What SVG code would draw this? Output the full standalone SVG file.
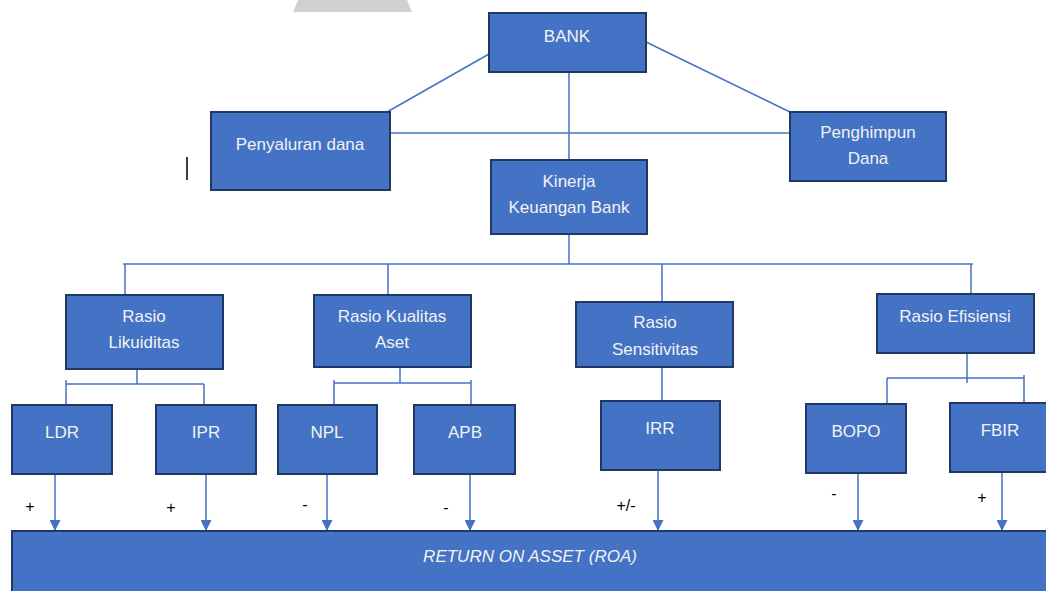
<svg xmlns="http://www.w3.org/2000/svg" width="1046" height="591" viewBox="0 0 1046 591">
<style>
.box{fill:#4472C4;stroke:#1F3864;stroke-width:2}
.t{font-family:"Liberation Sans",Arial,sans-serif;font-size:17px;fill:#F2F2F2;text-anchor:middle}
.ln{stroke:#4472C4;stroke-width:1.5;fill:none}
.sg{font-family:"Liberation Sans",Arial,sans-serif;font-size:16px;fill:#000;text-anchor:middle}
</style>
<defs>
<marker id="ah" viewBox="0 0 10 10" refX="10" refY="5" markerWidth="11" markerHeight="11" markerUnits="userSpaceOnUse" orient="auto">
<path d="M0,0 L10,5 L0,10 z" fill="#4472C4"/>
</marker>
</defs>
<rect width="1046" height="591" fill="#fff"/>
<polygon points="293,12 412,12 407,0 298,0" fill="#d0d0d0"/>
<line x1="187" y1="157" x2="187" y2="180" stroke="#000" stroke-width="1.5"/>

<g id="connectors">
<line class="ln" x1="489" y1="54" x2="387" y2="112"/>
<line class="ln" x1="646" y1="42" x2="790" y2="112"/>
<line class="ln" x1="569" y1="72" x2="569" y2="160"/>
<line class="ln" x1="390" y1="133" x2="790" y2="133"/>
<line class="ln" x1="569" y1="234" x2="569" y2="264"/>
<line class="ln" x1="123" y1="264" x2="973" y2="264"/>
<line class="ln" x1="125" y1="264" x2="125" y2="295"/>
<line class="ln" x1="388" y1="264" x2="388" y2="295"/>
<line class="ln" x1="662" y1="264" x2="662" y2="302"/>
<line class="ln" x1="971" y1="264" x2="971" y2="294"/>
<line class="ln" x1="137" y1="369" x2="137" y2="384"/>
<line class="ln" x1="66" y1="384" x2="204" y2="384"/>
<line class="ln" x1="66" y1="380" x2="66" y2="405"/>
<line class="ln" x1="204" y1="384" x2="204" y2="405"/>
<line class="ln" x1="400" y1="367" x2="400" y2="383"/>
<line class="ln" x1="334" y1="383" x2="471" y2="383"/>
<line class="ln" x1="334" y1="380" x2="334" y2="405"/>
<line class="ln" x1="471" y1="380" x2="471" y2="405"/>
<line class="ln" x1="662" y1="367" x2="662" y2="401"/>
<line class="ln" x1="967" y1="353" x2="967" y2="383"/>
<line class="ln" x1="887" y1="378" x2="1024" y2="378"/>
<line class="ln" x1="887" y1="378" x2="887" y2="404"/>
<line class="ln" x1="1024" y1="375" x2="1024" y2="403"/>
<line class="ln" x1="55" y1="474" x2="55" y2="531" marker-end="url(#ah)"/>
<line class="ln" x1="206" y1="474" x2="206" y2="531" marker-end="url(#ah)"/>
<line class="ln" x1="327" y1="474" x2="327" y2="531" marker-end="url(#ah)"/>
<line class="ln" x1="470" y1="474" x2="470" y2="531" marker-end="url(#ah)"/>
<line class="ln" x1="658" y1="470" x2="658" y2="531" marker-end="url(#ah)"/>
<line class="ln" x1="858" y1="473" x2="858" y2="531" marker-end="url(#ah)"/>
<line class="ln" x1="1002" y1="472" x2="1002" y2="531" marker-end="url(#ah)"/>
</g>

<g id="signs">
<text class="sg" x="30" y="512">+</text>
<text class="sg" x="171" y="513">+</text>
<text class="sg" x="305" y="510">-</text>
<text class="sg" x="446" y="513">-</text>
<text class="sg" x="626" y="511">+/-</text>
<text class="sg" x="834" y="499">-</text>
<text class="sg" x="982" y="503">+</text>
</g>

<g id="bank"><rect class="box" x="489" y="13" width="157" height="59"/><text class="t" x="567" y="42">BANK</text></g>
<g id="penyaluran"><rect class="box" x="211" y="112" width="179" height="78"/><text class="t" x="300" y="150">Penyaluran dana</text></g>
<g id="penghimpun"><rect class="box" x="790" y="112" width="156" height="69"/><text class="t" x="868" y="138">Penghimpun</text><text class="t" x="868" y="164">Dana</text></g>
<g id="kinerja"><rect class="box" x="491" y="160" width="156" height="74"/><text class="t" x="569" y="187">Kinerja</text><text class="t" x="569" y="213">Keuangan Bank</text></g>

<g id="likuiditas"><rect class="box" x="66" y="295" width="157" height="74"/><text class="t" x="144" y="322">Rasio</text><text class="t" x="144" y="348">Likuiditas</text></g>
<g id="kualitas"><rect class="box" x="314" y="295" width="157" height="72"/><text class="t" x="392" y="322">Rasio Kualitas</text><text class="t" x="392" y="348">Aset</text></g>
<g id="sensitivitas"><rect class="box" x="576" y="302" width="157" height="65"/><text class="t" x="655" y="328">Rasio</text><text class="t" x="655" y="355">Sensitivitas</text></g>
<g id="efisiensi"><rect class="box" x="877" y="294" width="157" height="59"/><text class="t" x="955" y="322">Rasio Efisiensi</text></g>

<g id="ldr"><rect class="box" x="12" y="405" width="100" height="69"/><text class="t" x="62" y="438">LDR</text></g>
<g id="ipr"><rect class="box" x="156" y="405" width="100" height="69"/><text class="t" x="206" y="438">IPR</text></g>
<g id="npl"><rect class="box" x="278" y="405" width="99" height="69"/><text class="t" x="327" y="438">NPL</text></g>
<g id="apb"><rect class="box" x="414" y="405" width="101" height="69"/><text class="t" x="465" y="438">APB</text></g>
<g id="irr"><rect class="box" x="601" y="401" width="119" height="69"/><text class="t" x="660" y="434">IRR</text></g>
<g id="bopo"><rect class="box" x="806" y="404" width="100" height="69"/><text class="t" x="856" y="437">BOPO</text></g>
<g id="fbir"><rect class="box" x="950" y="403" width="100" height="69"/><text class="t" x="1000" y="436">FBIR</text></g>

<g id="roa"><rect class="box" x="12" y="531" width="1040" height="65"/><text class="t" x="530" y="562" font-style="italic">RETURN ON ASSET (ROA)</text></g>
</svg>
